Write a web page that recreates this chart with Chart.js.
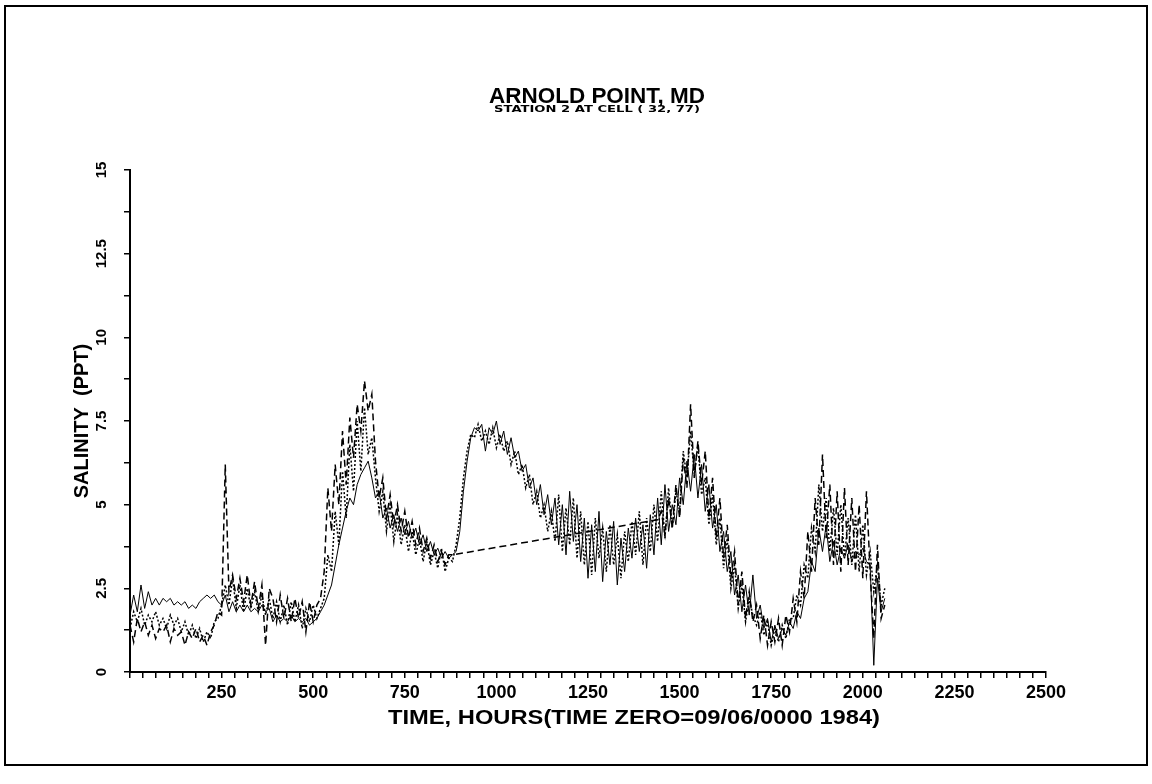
<!DOCTYPE html>
<html>
<head>
<meta charset="utf-8">
<script src="https://cdn.jsdelivr.net/npm/chart.js@4.4.1/dist/chart.umd.min.js"></script>
<style>
html, body { margin: 0; padding: 0; background: #fff; }
</style>
</head>
<body>
<canvas id="myChart" width="1152" height="784"></canvas>
<script>
// hours between samples
var STEP = 10;

var chartTitle = "ARNOLD POINT, MD";
var chartSubtitle = "STATION 2 AT CELL ( 32, 77)";
var xTitle = "TIME, HOURS(TIME ZERO=09/06/0000 1984)";
var yTitle = "SALINITY  (PPT)";

// solid line, from hour 0
var solidVals = [
    1.7, 2.3, 1.8, 2.6, 1.9, 2.4, 2.0, 2.2, 2.0, 2.2, 2.1, 2.2, 2.0, 2.1, 2.0, 2.1, 1.9, 2.0, 1.9, 2.1, 2.2, 2.3, 2.2, 2.3, 2.1, 2.0,
    2.3, 1.8, 2.1, 1.8, 2.0, 1.8, 2.0, 1.8, 1.9, 1.8, 2.0, 1.8, 1.9,
    1.5, 1.7, 1.5, 1.6, 1.5, 1.7, 1.5, 1.6, 1.5, 1.6, 1.4, 1.5, 1.6, 1.8,
    2.0, 2.3, 2.6, 3.2, 3.8, 4.3, 4.8, 5.2, 5.0, 5.6, 5.9, 6.1, 6.3, 5.8,
    5.2, 5.4, 4.6, 4.9, 4.3, 4.7, 4.2, 4.6, 4.1, 4.5, 4.0, 4.3, 3.8, 4.1, 3.6, 3.9, 3.5, 3.7, 3.4, 3.6, 3.4, 3.5,
    3.6, 4.2, 5.4, 6.3, 7.0, 7.3, 7.2, 7.4, 6.6, 7.3, 7.1, 7.5, 6.8, 7.2, 6.5, 7.0, 6.4, 6.6, 6.0, 6.2, 5.5, 5.8, 5.0, 5.6, 4.7, 5.3, 4.4,
    5.2, 3.8, 5.0, 3.5, 5.4, 3.9, 5.0, 3.3, 4.6, 2.8, 4.4, 3.0, 4.8, 2.7, 4.2, 3.2, 4.5, 2.6, 4.0, 3.0, 4.3, 3.4, 4.6, 3.6, 4.4, 3.1, 4.7, 3.5, 5.2, 3.8, 5.6, 4.2, 5.0,
    4.4, 5.8, 5.0, 6.3, 5.4, 6.5, 5.2, 6.2,
    4.8, 5.6, 4.3, 5.0, 3.6, 4.2, 3.0, 3.6, 2.3, 2.9, 1.8, 2.6, 1.7, 2.9,
    1.6, 2.0, 1.3, 1.6, 0.9, 1.4, 1.0, 1.3, 1.1, 1.5,
    1.3, 1.8, 1.6, 2.2, 2.4, 3.3, 3.0, 4.3, 3.6, 4.4,
    3.3, 3.9, 3.2, 3.7, 3.4, 3.8, 3.3, 3.6, 3.5, 3.7, 3.3, 3.2,
    0.2, 2.8, 1.8, 2.2
];

// dashed line: first part from hour 0, second part after the gap
var dashedValsA = [
    1.4, 0.9, 1.6, 1.2, 1.5, 1.1, 1.4, 1.0, 1.3, 1.2, 1.4, 0.9, 1.3, 1.1, 1.2, 0.8, 1.2, 1.0, 1.3, 0.9, 1.1, 0.8, 1.2, 1.4, 1.8, 1.7,
    6.2, 2.4, 2.9, 2.2, 2.8, 2.1, 2.9, 2.0, 2.7, 1.9, 2.6, 0.8, 2.5,
    2.2, 1.5, 2.3, 1.6, 2.2, 1.5, 2.2, 1.6, 2.1, 1.2, 2.1, 1.5, 2.0, 2.2,
    3.0, 5.5, 4.2, 6.2, 5.0, 7.2, 5.6, 7.6, 6.4, 8.0, 7.2, 8.7, 7.8, 8.3,
    6.3, 5.2, 5.8, 4.6, 5.3, 4.4, 5.0, 4.2, 4.8, 4.0, 4.5, 3.8, 4.3, 3.6, 4.0, 3.4, 3.8, 3.3, 3.6, 3.2, 3.5, 3.5
];
var dashedStartB = 1440;
var dashedValsB = [
    4.55,
    4.8, 4.1, 5.2, 4.3, 5.6, 4.6, 6.4, 5.5, 8.0, 5.8, 6.9, 5.6,
    6.6, 4.6, 5.8, 4.0, 5.2, 3.4, 4.4, 2.8, 3.6, 2.0, 3.0, 1.6, 2.4, 1.5,
    2.0, 1.0, 1.7, 0.8, 1.5, 0.9, 1.6, 0.8, 1.7, 1.2,
    2.2, 1.5, 3.0, 2.2, 4.2, 3.0, 5.2, 3.8, 6.5, 4.0,
    5.6, 3.2, 5.4, 3.0, 5.5, 3.2, 5.2, 3.0, 5.0, 2.8, 5.4, 3.0,
    1.0, 3.8, 1.6, 2.0
];

// dotted line, from hour 0
var dottedVals = [
    1.3, 1.8, 1.5, 1.9, 1.4, 1.7, 1.5, 1.8, 1.4, 1.6, 1.3, 1.7, 1.4, 1.6, 1.2, 1.5, 1.1, 1.4, 1.0, 1.3, 0.9, 1.2, 1.0, 1.5, 1.6, 2.0,
    2.6, 2.0, 2.8, 1.9, 2.6, 1.8, 2.5, 1.9, 2.4, 1.8, 2.3, 1.7, 2.2,
    1.6, 2.1, 1.5, 2.0, 1.4, 2.1, 1.5, 2.0, 1.3, 1.9, 1.5, 2.0, 1.6, 1.9,
    2.2, 3.5, 3.0, 4.8, 3.8, 6.0, 4.6, 6.8, 5.4, 7.5, 6.0, 7.9, 6.5, 7.0,
    5.8, 4.8, 5.4, 4.2, 5.0, 3.9, 4.7, 3.8, 4.4, 3.6, 4.2, 3.5, 4.0, 3.3, 3.9, 3.2, 3.6, 3.1, 3.7, 3.0, 3.4, 3.3,
    3.8, 4.6, 5.8, 6.6, 7.1, 7.0, 7.4, 6.9, 7.2, 6.8, 7.3, 6.7, 7.1, 6.6, 6.9, 6.2, 6.6, 5.9, 6.2, 5.5, 5.9, 5.0, 5.4, 4.6, 5.0, 4.2, 4.8,
    3.9, 5.3, 3.6, 4.9, 3.8, 5.2, 3.4, 4.8, 3.2, 4.5, 2.9, 4.6, 3.4, 4.3, 3.0, 4.4, 3.2, 4.1, 2.8, 4.2, 3.3, 4.5, 3.5, 4.8, 3.2, 4.6, 3.6, 5.0, 3.9, 5.4, 4.0, 5.5, 4.3,
    5.4, 4.8, 6.6, 5.8, 7.2, 5.9, 6.8, 5.3,
    5.8, 4.4, 5.3, 3.8, 4.6, 3.1, 4.0, 2.5, 3.2, 1.9, 2.6, 1.5, 2.2, 1.7,
    1.4, 1.8, 1.1, 1.5, 0.8, 1.3, 0.9, 1.4, 1.0, 1.6,
    1.6, 2.3, 2.0, 3.2, 2.8, 4.3, 3.6, 5.6, 4.2, 5.2,
    3.6, 4.9, 3.5, 5.0, 3.4, 4.6, 3.2, 4.7, 3.0, 4.4, 2.9, 3.6,
    2.4, 3.2, 2.0, 2.5
];

// axis ticks
var xMax = 2500, xMajor = 250, xMinorPerMajor = 7;
var yMax = 15, yStep = 1.25, yLabelStep = 2.5;

function toPoints(vals, start) {
    return vals.map(function (v, i) { return { x: start + i * STEP, y: v }; });
}

var fontName = '"Liberation Sans", Arial, sans-serif';

function fitText(ctx, text, cx, cy, width, font) {
    ctx.save();
    ctx.font = font;
    var w = ctx.measureText(text).width;
    ctx.translate(cx, cy);
    ctx.scale(width / w, 1);
    ctx.textAlign = 'center';
    ctx.textBaseline = 'middle';
    ctx.fillStyle = '#000';
    ctx.fillText(text, 0, 0);
    ctx.restore();
}

var framePlugin = {
    id: 'frame',
    beforeDraw: function (chart) {
        var ctx = chart.ctx;
        ctx.save();
        ctx.fillStyle = '#fff';
        ctx.fillRect(0, 0, chart.width, chart.height);
        ctx.strokeStyle = '#000';
        ctx.lineWidth = 2;
        ctx.strokeRect(5, 6, 1142, 759);
        ctx.restore();
    },
    afterDraw: function (chart) {
        var ctx = chart.ctx;
        var a = chart.chartArea;
        fitText(ctx, chartTitle, 597, 97, 216, 'bold 22px ' + fontName);
        fitText(ctx, chartSubtitle, 597, 110, 206, 'bold 9px "DejaVu Sans", sans-serif');
        fitText(ctx, xTitle, a.left + 504, a.bottom + 46, 492, 'bold 21px ' + fontName);
    }
};

var ctx = document.getElementById("myChart");

var myChart = new Chart(ctx, {
    type: 'line',
    data: {
        datasets: [
            {
                label: 'solid',
                data: toPoints(solidVals, 0),
                borderColor: '#000',
                borderWidth: 1,
                pointRadius: 0,
                tension: 0
            },
            {
                label: 'dashed',
                data: toPoints(dashedValsA, 0).concat(toPoints(dashedValsB, dashedStartB)),
                borderColor: '#000',
                borderWidth: 1.5,
                borderDash: [7, 4],
                pointRadius: 0,
                tension: 0
            },
            {
                label: 'dotted',
                data: toPoints(dottedVals, 0),
                borderColor: '#000',
                borderWidth: 1.5,
                borderDash: [2, 2],
                pointRadius: 0,
                tension: 0
            }
        ]
    },
    options: {
        responsive: false,
        animation: false,
        layout: { padding: { top: 170, left: 60, right: 106, bottom: 40 } },
        plugins: {
            legend: { display: false },
            tooltip: { enabled: false },
            title: { display: false }
        },
        scales: {
            x: {
                type: 'linear',
                min: 0,
                max: xMax,
                afterBuildTicks: function (scale) {
                    var t = [];
                    var n = xMax / xMajor * xMinorPerMajor;
                    for (var k = 0; k <= n; k++) t.push({ value: k * xMajor / xMinorPerMajor });
                    scale.ticks = t;
                },
                afterFit: function (scale) { scale.height = 72; },
                ticks: {
                    autoSkip: false,
                    maxRotation: 0,
                    padding: 4,
                    color: '#000',
                    font: { family: fontName, size: 18, weight: 'bold' },
                    callback: function (v, i) {
                        return (i > 0 && i % xMinorPerMajor === 0) ? String(Math.round(v)) : '';
                    }
                },
                grid: {
                    drawOnChartArea: false,
                    drawTicks: true,
                    tickLength: 6,
                    color: '#000',
                    lineWidth: 1.5
                },
                border: { display: true, color: '#000', width: 2 }
            },
            y: {
                min: 0,
                max: yMax,
                afterFit: function (scale) { scale.width = 70; },
                ticks: {
                    stepSize: yStep,
                    autoSkip: false,
                    minRotation: 90,
                    maxRotation: 90,
                    crossAlign: 'center',
                    padding: 8,
                    color: '#000',
                    font: { family: fontName, size: 15, weight: 'bold' },
                    callback: function (v) {
                        return (v % yLabelStep === 0) ? String(v) : '';
                    }
                },
                grid: {
                    drawOnChartArea: false,
                    drawTicks: true,
                    tickLength: 6,
                    color: '#000',
                    lineWidth: 1.5
                },
                border: { display: true, color: '#000', width: 2 },
                title: {
                    display: true,
                    text: yTitle,
                    color: '#000',
                    font: { family: fontName, size: 20, weight: 'bold' },
                    padding: { top: 10, bottom: 0 }
                }
            }
        }
    },
    plugins: [framePlugin]
});
</script>
</body>
</html>
